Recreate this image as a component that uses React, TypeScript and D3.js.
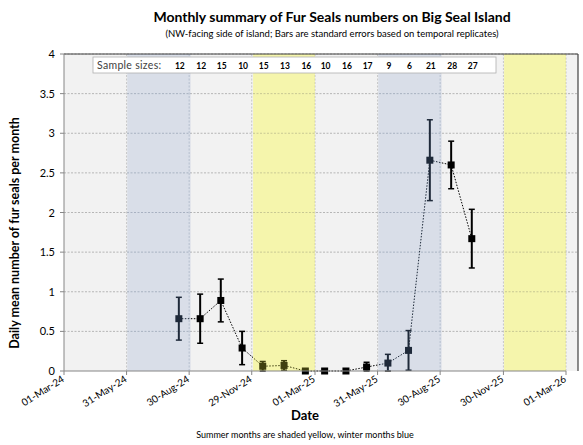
import React from "react";
import * as d3 from "d3";

const monthDates = [
  "2024-08-15", "2024-09-15", "2024-10-15", "2024-11-15", "2024-12-15",
  "2025-01-15", "2025-02-15", "2025-03-15", "2025-04-15", "2025-05-15",
  "2025-06-15", "2025-07-15", "2025-08-15", "2025-09-15", "2025-10-15",
];
const meanValues = [0.66, 0.66, 0.89, 0.29, 0.06, 0.07, 0.0, 0.0, 0.0, 0.05, 0.1, 0.26, 2.66, 2.6, 1.67];
const stdErrors = [0.27, 0.31, 0.27, 0.21, 0.06, 0.06, 0.0, 0.0, 0.0, 0.06, 0.11, 0.25, 0.51, 0.3, 0.37];
const sampleSizes = [12, 12, 15, 10, 15, 13, 16, 10, 16, 17, 9, 6, 21, 28, 27];

const tickDates = [
  "2024-03-01", "2024-05-31", "2024-08-30", "2024-11-29", "2025-03-01",
  "2025-05-31", "2025-08-30", "2025-11-30", "2026-03-01",
];
const yTicks = [0, 0.5, 1, 1.5, 2, 2.5, 3, 3.5, 4];

const winterBands = [
  ["2024-06-01", "2024-09-01"],
  ["2025-06-01", "2025-09-01"],
];
const summerBands = [
  ["2024-12-01", "2025-03-01"],
  ["2025-12-01", "2026-03-01"],
];

const W = 583;
const H = 445;
const FONT = "Lato, 'Open Sans', sans-serif";

const parse = (s: string) => d3.utcParse("%Y-%m-%d")(s) as Date;
const fmt = d3.utcFormat("%d-%b-%y");

export default function App() {
  const left = 64;
  const axisRight = 566;
  const plotRight = 578;
  const top = 54;
  const bottom = 371;

  const x = d3.scaleUtc().domain([parse("2024-03-01"), parse("2026-03-01")]).range([left, axisRight]);
  const y = d3.scaleLinear().domain([0, 4]).range([bottom, top]);

  const pts = monthDates.map((d, i) => ({
    x: x(parse(d)),
    y: y(meanValues[i]),
    lo: y(Math.max(0, meanValues[i] - stdErrors[i])),
    hi: y(meanValues[i] + stdErrors[i]),
  }));
  const line = d3.line<{ x: number; y: number }>().x((p) => p.x).y((p) => p.y);

  const bandRect = (b: string[], fill: string, key: string, opacity = 1) => (
    <rect
      key={key}
      x={x(parse(b[0]))}
      y={top}
      width={x(parse(b[1])) - x(parse(b[0]))}
      height={bottom - top}
      fill={fill}
      opacity={opacity}
    />
  );

  return (
    <svg width={W} height={H} style={{ position: "absolute", left: 0, top: 0, background: "#fff" }}>
      {/* titles */}
      <text x={332} y={22} textAnchor="middle" fontFamily={FONT} fontWeight={700} fontSize={14} fill="#000">
        Monthly summary of Fur Seals numbers on Big Seal Island
      </text>
      <text x={332} y={37} textAnchor="middle" fontFamily={FONT} fontSize={9.5} fill="#000">
        (NW-facing side of island; Bars are standard errors based on temporal replicates)
      </text>

      {/* plot background */}
      <rect x={left} y={top} width={plotRight - left} height={bottom - top} fill="#f2f2f2" />
      {summerBands.map((b, i) => bandRect(b, "#f2f2d1", "sb" + i))}
      {winterBands.map((b, i) => bandRect(b, "#f8f1e9", "wb" + i))}

      {/* gridlines */}
      {yTicks.slice(1).map((t) => (
        <line key={"g" + t} x1={left} x2={plotRight} y1={y(t)} y2={y(t)} stroke="#a6a6a6" strokeWidth={0.8} strokeDasharray="2,1.5" />
      ))}
      {tickDates.slice(1).map((t) => (
        <line key={"v" + t} x1={x(parse(t))} x2={x(parse(t))} y1={top} y2={bottom} stroke="#bdbdbd" strokeWidth={0.8} strokeDasharray="2,1.5" />
      ))}

      {/* series */}
      <path d={line(pts) || ""} fill="none" stroke="#000" strokeWidth={1} strokeDasharray="1.5,1.5" />
      {pts.map((p, i) => (
        <g key={"e" + i}>
          <line x1={p.x} x2={p.x} y1={p.lo} y2={p.hi} stroke="#000" strokeWidth={2} />
          <line x1={p.x - 3} x2={p.x + 3} y1={p.lo} y2={p.lo} stroke="#000" strokeWidth={1.5} />
          <line x1={p.x - 3} x2={p.x + 3} y1={p.hi} y2={p.hi} stroke="#000" strokeWidth={1.5} />
          <rect x={p.x - 3.5} y={p.y - 3.5} width={7} height={7} fill="#000" />
        </g>
      ))}

      {/* translucent season overlays */}
      {summerBands.map((b, i) => bandRect(b, "#ffff40", "so" + i, 0.25))}
      {winterBands.map((b, i) => bandRect(b, "#7ca6e6", "wo" + i, 0.25))}

      {/* sample size box */}
      <rect x={93} y={57} width={403} height={16} fill="#fff" stroke="#b0b0b0" strokeWidth={0.8} />
      <text x={97} y={69} fontFamily={FONT} fontSize={10.5} fill="#404040" letterSpacing={0.3}>
        Sample sizes:
      </text>
      {sampleSizes.map((n, i) => (
        <text key={"n" + i} x={pts[i].x + 1} y={69} textAnchor="middle" fontFamily={FONT} fontWeight={700} fontSize={8.5} fill="#000">
          {n}
        </text>
      ))}

      {/* frame */}
      <line x1={left} x2={plotRight} y1={top} y2={top} stroke="#404040" strokeWidth={1.2} />
      <line x1={plotRight} x2={plotRight} y1={top} y2={bottom} stroke="#404040" strokeWidth={1.2} />

      {/* y axis */}
      <line x1={left} x2={left} y1={top} y2={bottom} stroke="#868686" strokeWidth={1} />
      {yTicks.map((t) => (
        <g key={"y" + t}>
          <line x1={left - 4} x2={left} y1={y(t)} y2={y(t)} stroke="#868686" />
          <text x={left - 9} y={y(t) + 4} textAnchor="end" fontFamily={FONT} fontSize={11} fill="#000">
            {t}
          </text>
        </g>
      ))}

      {/* x axis */}
      <line x1={left} x2={axisRight} y1={bottom} y2={bottom} stroke="#868686" strokeWidth={1} />
      {tickDates.map((t) => {
        const tx = x(parse(t));
        return (
          <g key={"x" + t}>
            <line x1={tx} x2={tx} y1={bottom} y2={bottom + 4} stroke="#868686" />
            <text
              transform={`translate(${tx + 1},${bottom + 10}) rotate(-32)`}
              textAnchor="end"
              fontFamily={FONT}
              fontSize={10}
              fill="#000"
            >
              {fmt(parse(t))}
            </text>
          </g>
        );
      })}

      {/* axis titles */}
      <text x={305} y={420} textAnchor="middle" fontFamily={FONT} fontWeight={700} fontSize={13} fill="#000">
        Date
      </text>
      <text
        transform="translate(19,233) rotate(-90)"
        textAnchor="middle"
        fontFamily={FONT}
        fontWeight={700}
        fontSize={12.5}
        fill="#000"
      >
        Daily mean number of fur seals per month
      </text>
      <text x={305} y={438} textAnchor="middle" fontFamily={FONT} fontSize={9} fill="#000">
        Summer months are shaded yellow, winter months blue
      </text>
    </svg>
  );
}
